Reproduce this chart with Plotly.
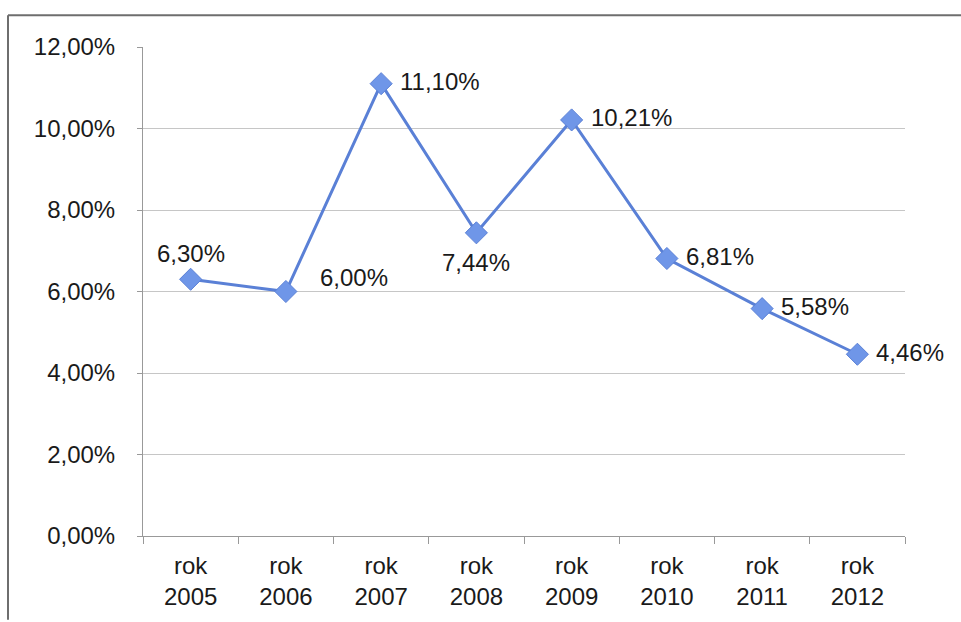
import plotly.graph_objects as go

# Annual rate by year (percent)
years = ["2005", "2006", "2007", "2008", "2009", "2010", "2011", "2012"]
rates = [6.30, 6.00, 11.10, 7.44, 10.21, 6.81, 5.58, 4.46]

# Where each value label sits relative to its point
label_pos = ["above", "right_up", "right", "below", "right", "right", "right", "right"]

categories = ["rok<br>" + y for y in years]
values = [r / 100 for r in rates]
labels = [f"{r:.2f}%".replace(".", ",") for r in rates]

W, H = 961, 622
ML, MR, MT, MB = 143, 56, 47, 84
PW, PH = W - ML - MR, H - MT - MB

FONT = "Liberation Sans, Arial, sans-serif"
LINE_COL = "#5a80d6"
MARKER_COL = "#6f96e8"
FS = 24

fig = go.Figure()
fig.add_trace(go.Scatter(
    x=categories, y=values, mode="lines+markers",
    line=dict(color=LINE_COL, width=3),
    marker=dict(symbol="diamond", size=17, color=MARKER_COL,
                line=dict(color="#5a80d6", width=1)),
    hoverinfo="skip", showlegend=False,
))

offsets = {
    "above": dict(xanchor="center", yanchor="bottom", xshift=0, yshift=10),
    "below": dict(xanchor="center", yanchor="top", xshift=0, yshift=-14),
    "right": dict(xanchor="left", yanchor="middle", xshift=17, yshift=2),
    "right_up": dict(xanchor="left", yanchor="middle", xshift=32, yshift=14),
}
for cat, v, txt, pos in zip(categories, values, labels, label_pos):
    fig.add_annotation(x=cat, y=v, text=txt, showarrow=False,
                       font=dict(family=FONT, size=FS, color="#1a1a1a"),
                       **offsets[pos])

# Outer frame: top and left edges of the chart box
x_left = (8 - ML) / PW
y_top = (H - MB - 15) / PH
y_bot = -MB / PH
fig.add_shape(type="line", xref="paper", yref="paper", x0=x_left, x1=(W - ML) / PW,
              y0=y_top, y1=y_top, line=dict(color="#6e6e6e", width=2))
fig.add_shape(type="line", xref="paper", yref="paper", x0=x_left, x1=x_left,
              y0=y_top, y1=y_bot, line=dict(color="#6e6e6e", width=2))

fig.update_layout(
    width=W, height=H,
    margin=dict(l=ML, r=MR, t=MT, b=MB, pad=0),
    paper_bgcolor="white", plot_bgcolor="white",
    separators=", ",
    font=dict(family=FONT, size=FS, color="#1a1a1a"),
    xaxis=dict(
        type="category", tickson="boundaries", ticks="outside", ticklen=7,
        tickcolor="#999999", showline=True, linecolor="#999999", linewidth=1,
        showgrid=False, tickfont=dict(size=FS), range=[-0.5, 7.5],
        ticklabelstandoff=8,
    ),
    yaxis=dict(
        range=[0, 0.12], dtick=0.02, tickformat=".2%",
        showline=True, linecolor="#999999", linewidth=1,
        ticks="outside", ticklen=5, tickcolor="#999999",
        gridcolor="#c6c6c6", gridwidth=1, zeroline=False,
        tickfont=dict(size=FS), ticklabelstandoff=17,
    ),
)

fig.write_html("out.html")
